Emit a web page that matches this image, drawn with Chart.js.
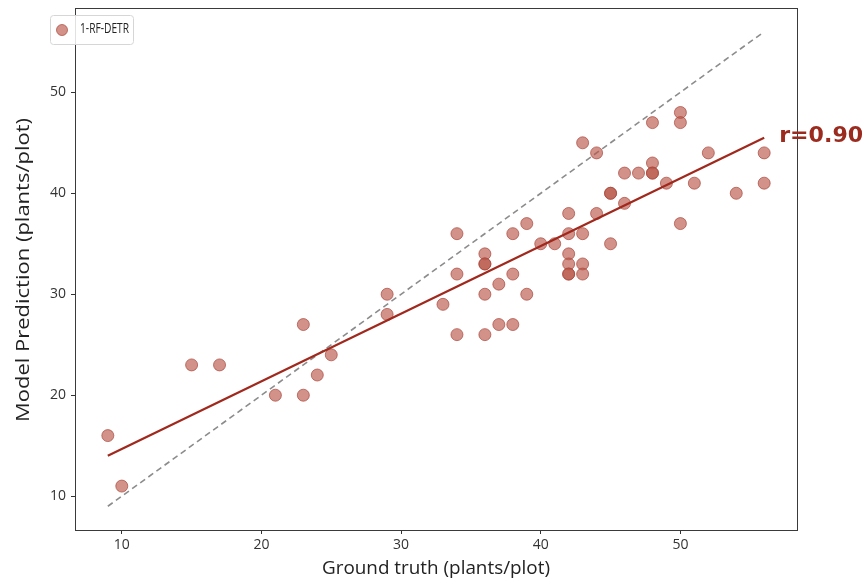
<!DOCTYPE html>
<html>
<head>
<meta charset="utf-8">
<script src="https://cdn.jsdelivr.net/npm/chart.js@4.4.1/dist/chart.umd.min.js"></script>
<style>
  html, body { margin: 0; padding: 0; background: #ffffff; }
  #wrap { width: 865px; height: 582px; }
</style>
</head>
<body>
<div id="wrap"><canvas id="c" width="865" height="582"></canvas></div>
<script>
// ---- data ----
const groundTruth = [9, 10, 15, 17, 21, 23, 23, 24, 25, 29, 29, 33, 34, 34, 34,
  36, 36, 36, 36, 36, 37, 37, 38, 38, 38, 39, 39, 40, 41,
  42, 42, 42, 42, 42, 42, 43, 43, 43, 43, 44, 44,
  45, 45, 45, 46, 46, 47, 48, 48, 48, 48, 49, 50, 50, 50, 51, 52, 54, 56, 56];
const predicted = [16, 11, 23, 23, 20, 20, 27, 22, 24, 30, 28, 29, 36, 32, 26,
  34, 33, 33, 30, 26, 31, 27, 36, 32, 27, 37, 30, 35, 35,
  38, 36, 34, 33, 32, 32, 45, 36, 33, 32, 44, 38,
  40, 40, 35, 42, 39, 42, 47, 43, 42, 42, 41, 48, 47, 37, 41, 44, 40, 44, 41];
const fitX = [9, 56];
const fitY = [14.0, 45.5];
const identityX = [9, 56];
const identityY = [9, 56];
const xTicks = [10, 20, 30, 40, 50];
const yTicks = [10, 20, 30, 40, 50];
const seriesName = '1-RF-DETR';
const rLabel = 'r=0.90';
const xTitle = 'Ground truth (plants/plot)';
const yTitle = 'Model Prediction (plants/plot)';

const scatterPts = groundTruth.map((x, i) => ({ x: x, y: predicted[i] }));
const fitPts = fitX.map((x, i) => ({ x: x, y: fitY[i] }));
const idPts = identityX.map((x, i) => ({ x: x, y: identityY[i] }));

const FONT = "'Open Sans', 'DejaVu Sans', sans-serif";
const PT_FILL = 'rgba(184, 84, 70, 0.64)';
const PT_EDGE = 'rgba(170, 70, 58, 0.7)';

function fitText(ctx, text, x, y, width) {
  const w = ctx.measureText(text).width;
  ctx.save();
  ctx.translate(x, y);
  ctx.scale(width / w, 1);
  ctx.fillText(text, 0, 0);
  ctx.restore();
}

const extras = {
  id: 'extras',
  afterDraw(chart) {
    const ctx = chart.ctx;
    const a = chart.chartArea;
    const xs = chart.scales.x, ys = chart.scales.y;
    ctx.save();
    // full frame
    ctx.strokeStyle = '#3a3a3a';
    ctx.lineWidth = 1;
    ctx.strokeRect(Math.round(a.left) + 0.5, Math.round(a.top) + 0.5,
      Math.round(a.right - a.left), Math.round(a.bottom - a.top));
    // legend box
    const lx = 50, ly = 15, lw = 83, lh = 29;
    ctx.fillStyle = 'rgba(255,255,255,0.85)';
    ctx.strokeStyle = '#d6d6d6';
    ctx.lineWidth = 1;
    ctx.beginPath();
    if (ctx.roundRect) ctx.roundRect(lx + 0.5, ly + 0.5, lw, lh, 3); else ctx.rect(lx + 0.5, ly + 0.5, lw, lh);
    ctx.fill(); ctx.stroke();
    ctx.beginPath();
    ctx.arc(lx + 12, ly + 15, 5.5, 0, Math.PI * 2);
    ctx.fillStyle = PT_FILL; ctx.fill();
    ctx.strokeStyle = PT_EDGE; ctx.stroke();
    ctx.fillStyle = '#222';
    ctx.font = '15px ' + FONT;
    ctx.textAlign = 'left';
    ctx.textBaseline = 'middle';
    fitText(ctx, seriesName, lx + 30, ly + 14, 49);
    // r label
    const ex = xs.getPixelForValue(fitX[fitX.length - 1]);
    const ey = ys.getPixelForValue(fitY[fitY.length - 1]);
    ctx.font = "bold 22px 'DejaVu Sans', sans-serif";
    ctx.fillStyle = '#9c2b1f';
    ctx.textAlign = 'left';
    ctx.textBaseline = 'middle';
    fitText(ctx, rLabel, ex + 15, ey - 1, 84);
    // axis titles
    ctx.fillStyle = '#222';
    ctx.font = '18px ' + FONT;
    ctx.textAlign = 'left';
    ctx.textBaseline = 'middle';
    const xw = 228;
    fitText(ctx, xTitle, 436 - xw / 2, 569, xw);
    ctx.save();
    ctx.translate(24, 270);
    ctx.rotate(-Math.PI / 2);
    const yw = 304;
    fitText(ctx, yTitle, -yw / 2, 0, yw);
    ctx.restore();
    ctx.restore();
  }
};

new Chart(document.getElementById('c'), {
  type: 'scatter',
  data: {
    datasets: [
      {
        label: 'identity',
        type: 'line',
        data: idPts,
        borderColor: '#8c8c8c',
        borderWidth: 1.6,
        borderDash: [6, 4],
        pointRadius: 0,
        fill: false,
        order: 2
      },
      {
        label: seriesName,
        data: scatterPts,
        backgroundColor: PT_FILL,
        borderColor: PT_EDGE,
        borderWidth: 1,
        pointRadius: 6,
        pointHoverRadius: 6,
        order: 1
      },
      {
        label: 'fit',
        type: 'line',
        data: fitPts,
        borderColor: '#a0281c',
        borderWidth: 2.2,
        pointRadius: 0,
        fill: false,
        order: 0
      }
    ]
  },
  options: {
    responsive: false,
    animation: false,
    events: [],
    layout: { padding: { left: 0, right: 68, top: 8, bottom: 0 } },
    plugins: { legend: { display: false }, tooltip: { enabled: false }, title: { display: false } },
    scales: {
      x: {
        type: 'linear',
        min: 6.65, max: 58.35,
        afterBuildTicks(s) { s.ticks = xTicks.map(v => ({ value: v })); },
        afterFit(s) { s.height = 52; s.paddingLeft = 0; s.paddingRight = 0; },
        grid: { display: true, drawOnChartArea: false, drawTicks: true, tickLength: 4, color: '#333', tickWidth: 1 },
        border: { display: true, color: '#3a3a3a', width: 1 },
        ticks: { color: '#333', font: { family: FONT, size: 14 }, padding: 3, maxRotation: 0,
          callback: v => String(v) }
      },
      y: {
        type: 'linear',
        min: 6.65, max: 58.35,
        afterBuildTicks(s) { s.ticks = yTicks.map(v => ({ value: v })); },
        afterFit(s) { s.width = 75; s.paddingTop = 0; s.paddingBottom = 0; },
        grid: { display: true, drawOnChartArea: false, drawTicks: true, tickLength: 4, color: '#333', tickWidth: 1 },
        border: { display: true, color: '#3a3a3a', width: 1 },
        ticks: { color: '#333', font: { family: FONT, size: 14 }, padding: 5,
          callback: v => String(v) }
      }
    }
  },
  plugins: [extras]
});
</script>
</body>
</html>
